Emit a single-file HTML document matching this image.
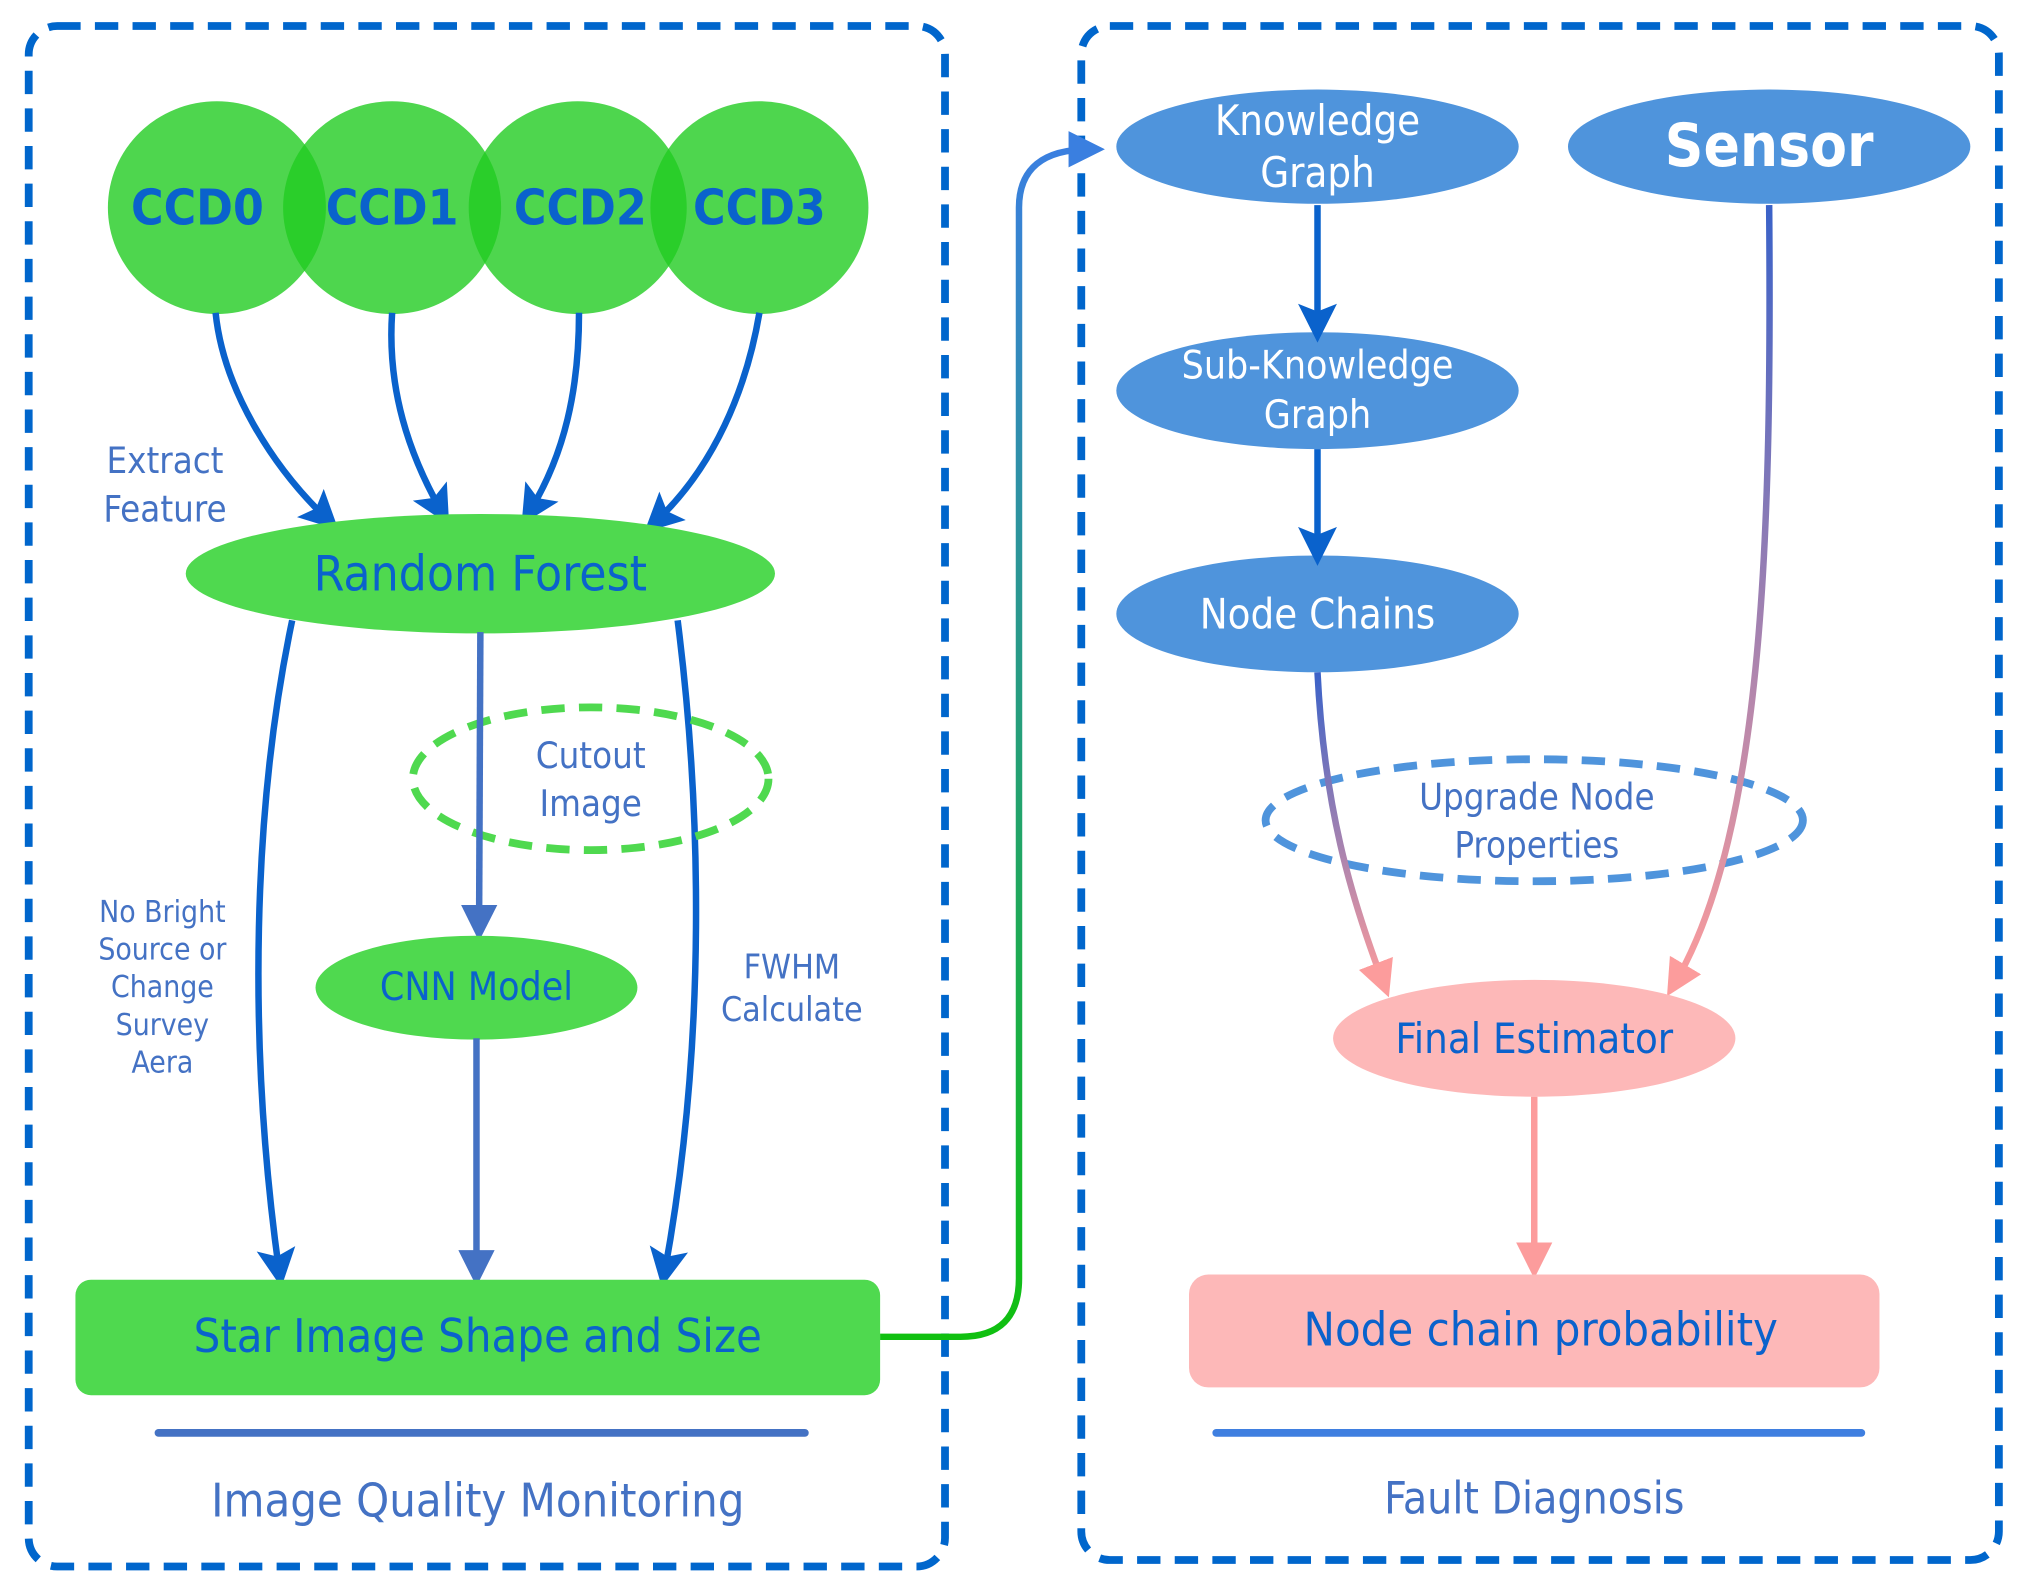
<!DOCTYPE html>
<html><head><meta charset="utf-8"><style>
html,body{margin:0;padding:0;background:#fff}
svg{display:block}
text{font-family:"DejaVu Sans","Liberation Sans",sans-serif;font-stretch:condensed;text-anchor:middle;dominant-baseline:central}
</style></head><body>
<svg width="2025" height="1586" viewBox="0 0 1560 1222" xmlns="http://www.w3.org/2000/svg">
<defs>
<marker id="ab" markerWidth="10" markerHeight="10" refX="6" refY="5" orient="auto" markerUnits="userSpaceOnUse" viewBox="0 0 10 10"><path d="M0,0 L10,5 L0,10 Z" fill="#0a62cc"/></marker>
<marker id="ab2" viewBox="0 0 10 10" refX="6" refY="5" markerWidth="30" markerHeight="30" orient="auto" markerUnits="userSpaceOnUse"><path d="M0,0 L10,5 L0,10 L2,5 Z" fill="#0a62cc"/></marker>
<marker id="ag" viewBox="0 0 10 10" refX="6" refY="5" markerWidth="28" markerHeight="28" orient="auto" markerUnits="userSpaceOnUse"><path d="M0,0 L10,5 L0,10 Z" fill="#4472c4"/></marker>
<marker id="ap" viewBox="0 0 10 10" refX="6" refY="5" markerWidth="28" markerHeight="28" orient="auto" markerUnits="userSpaceOnUse"><path d="M0,0 L10,5 L0,10 Z" fill="#fc9c9c"/></marker>
<marker id="abl" viewBox="0 0 10 10" refX="6" refY="5" markerWidth="28" markerHeight="28" orient="auto" markerUnits="userSpaceOnUse"><path d="M0,0 L10,5 L0,10 Z" fill="#3a7fe0"/></marker>
<linearGradient id="gconn" x1="0" y1="1" x2="0" y2="0"><stop offset="0" stop-color="#10c010"/><stop offset="1" stop-color="#3a7fe0"/></linearGradient>
<linearGradient id="gbp" x1="0" y1="0" x2="0" y2="1"><stop offset="0" stop-color="#3a62c8"/><stop offset="1" stop-color="#fc9c9c"/></linearGradient>
</defs>
<!-- boxes -->
<rect x="22" y="20" width="706" height="1187" rx="22" fill="none" stroke="#0066cc" stroke-width="6" stroke-dasharray="18 11"/>
<rect x="833" y="20" width="707" height="1182" rx="22" fill="none" stroke="#0066cc" stroke-width="6" stroke-dasharray="18 11"/>
<!-- CCDs -->
<g fill="#22cc22" fill-opacity="0.8">
<ellipse cx="167" cy="160" rx="84" ry="82"/><ellipse cx="302" cy="160" rx="84" ry="82"/><ellipse cx="445" cy="160" rx="84" ry="82"/><ellipse cx="585" cy="160" rx="84" ry="82"/>
</g>
<g fill="#0a62cc" font-size="38" font-weight="bold">
<text x="152" y="160">CCD0</text><text x="302" y="160">CCD1</text><text x="447" y="160">CCD2</text><text x="585" y="160">CCD3</text>
</g>
<g fill="none" stroke="#0a62cc" stroke-width="5" marker-end="url(#ab2)">
<path d="M166,241 C172,300 210,360 252,400"/>
<path d="M302,241 C298,300 315,350 340,394"/>
<path d="M446,241 C446,300 435,350 408,394"/>
<path d="M585,241 C575,300 550,360 505,402"/>
</g>
<text x="127" y="355" font-size="28" fill="#4472c4">Extract</text>
<text x="127" y="392" font-size="28" fill="#4472c4">Feature</text>
<ellipse cx="370" cy="442" rx="227" ry="46" fill="#4fd94f"/>
<text x="370" y="442" font-size="38" fill="#0a62cc">Random Forest</text>
<g fill="none" stroke="#0a62cc" stroke-width="5" marker-end="url(#ab2)">
<path d="M225,478 C195,620 190,800 215,980"/>
<path d="M522,478 C540,620 545,800 512,980"/>
</g>
<ellipse cx="455" cy="600" rx="137" ry="55" fill="none" stroke="#4fd94f" stroke-width="6" stroke-dasharray="18 11"/>
<text x="455" y="582" font-size="28" fill="#4472c4">Cutout</text>
<text x="455" y="619" font-size="28" fill="#4472c4">Image</text>
<path d="M370,487 L369,714" stroke="#4472c4" stroke-width="5" fill="none" marker-end="url(#ag)"/>
<ellipse cx="367" cy="761" rx="124" ry="40" fill="#4fd94f"/>
<text x="367" y="761" font-size="30" fill="#0a62cc">CNN Model</text>
<path d="M367,800 L367,980" stroke="#4472c4" stroke-width="5" fill="none" marker-end="url(#ag)"/>
<g font-size="23" fill="#4472c4">
<text x="125" y="703">No Bright</text><text x="125" y="732">Source or</text><text x="125" y="761">Change</text><text x="125" y="790">Survey</text><text x="125" y="819">Aera</text>
</g>
<text x="610" y="745" font-size="26" fill="#4472c4">FWHM</text>
<text x="610" y="778" font-size="26" fill="#4472c4">Calculate</text>
<rect x="58" y="986" width="620" height="89" rx="12" fill="#4fd94f"/>
<text x="368" y="1030" font-size="36" fill="#0a62cc">Star Image Shape and Size</text>
<line x1="122" y1="1104" x2="620" y2="1104" stroke="#4472c4" stroke-width="6" stroke-linecap="round"/>
<text x="368" y="1157" font-size="36" fill="#4472c4">Image Quality Monitoring</text>
<!-- connector -->
<path d="M678,1030 L740,1030 Q785,1030 785,985 L785,160 Q785,115 840,115" fill="none" stroke="url(#gconn)" stroke-width="5" marker-end="url(#abl)"/>
<!-- right -->
<g fill="#4f94dc">
<ellipse cx="1015" cy="113" rx="155" ry="44"/><ellipse cx="1363" cy="113" rx="155" ry="44"/>
<ellipse cx="1015" cy="301" rx="155" ry="45"/><ellipse cx="1015" cy="473" rx="155" ry="45"/>
</g>
<g fill="#fff" font-size="32">
<text x="1015" y="93">Knowledge</text><text x="1015" y="133">Graph</text>
<text x="1015" y="282" font-size="30">Sub-Knowledge</text><text x="1015" y="320" font-size="30">Graph</text>
<text x="1015" y="473">Node Chains</text>
</g>
<text x="1363" y="113" font-size="46" font-weight="bold" fill="#fff">Sensor</text>
<path d="M1015,158 L1015,252" stroke="#0a62cc" stroke-width="5" fill="none" marker-end="url(#ab2)"/>
<path d="M1015,346 L1015,424" stroke="#0a62cc" stroke-width="5" fill="none" marker-end="url(#ab2)"/>
<ellipse cx="1182" cy="632" rx="207" ry="47" fill="none" stroke="#4f94dc" stroke-width="6" stroke-dasharray="18 11"/>
<text x="1184" y="614" font-size="28" fill="#4472c4">Upgrade Node</text>
<text x="1184" y="651" font-size="28" fill="#4472c4">Properties</text>
<path d="M1015,518 C1020,620 1040,690 1066,758" stroke="url(#gbp)" stroke-width="5" fill="none" marker-end="url(#ap)"/>
<path d="M1363,158 C1365,400 1360,640 1290,758" stroke="url(#gbp)" stroke-width="5" fill="none" marker-end="url(#ap)"/>
<ellipse cx="1182" cy="800" rx="155" ry="45" fill="#fdb8b8"/>
<text x="1182" y="800" font-size="32" fill="#0a62cc">Final Estimator</text>
<path d="M1182,845 L1182,974" stroke="#fc9c9c" stroke-width="5" fill="none" marker-end="url(#ap)"/>
<rect x="916" y="982" width="532" height="87" rx="15" fill="#fdb8b8"/>
<text x="1187" y="1025" font-size="36" fill="#0a62cc">Node chain probability</text>
<line x1="937" y1="1104" x2="1434" y2="1104" stroke="#3f7fe0" stroke-width="6" stroke-linecap="round"/>
<text x="1182" y="1155" font-size="34" fill="#4472c4">Fault Diagnosis</text>
</svg>
</body></html>
